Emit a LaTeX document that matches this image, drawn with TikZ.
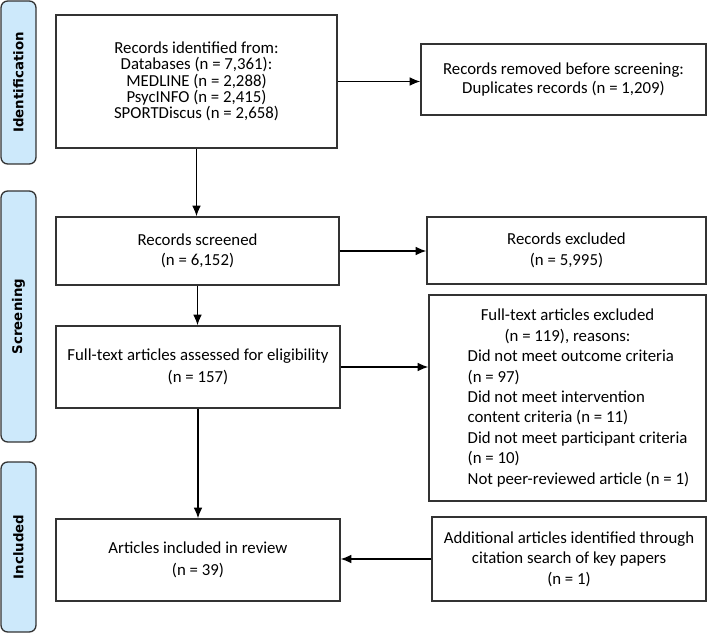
\documentclass[tikz,border=0pt]{standalone}
\usepackage{fontspec}
\setmainfont{Carlito}
\newfontfamily\stagefont{DejaVu Sans}
\usetikzlibrary{positioning}
\usetikzlibrary{calc}
\usetikzlibrary{arrows.meta}

\definecolor{stageblue}{RGB}{205,233,251}

\tikzset{
    box/.style={draw=black!80, line width=1pt, align=center,
        font=\fontsize{12.6}{15.3}\selectfont},
    listbox/.style={draw=black!80, line width=1pt, inner sep=0pt},
    stage/.style={draw=black!80, fill=stageblue, line width=1pt,
        rounded corners=5pt, rotate=90, minimum height=26.25pt,
        font=\stagefont\bfseries\fontsize{10}{12}\selectfont},
    arr/.style={-{Latex[length=8pt,width=6.5pt]}, line width=1pt}
}

\begin{document}
\begin{tikzpicture}[x=0.75pt, y=-0.75pt]
    \useasboundingbox (0,0) rectangle (708,635);

    % stage tabs
    \node[stage, minimum width=122.25pt] (tid)  at (18.5,82.5)  {Identification};
    \node[stage, minimum width=188.25pt] (tscr) at (18.5,316.5) {Screening};
    \node[stage, minimum width=127.5pt]  (tinc) at (18.5,547)   {Included};

    % identification
    \node[box, minimum width=210.75pt, minimum height=99.75pt,
        font=\fontsize{12.6}{12.2}\selectfont] (id) at (196.5,81.5)
        {Records identified from:\\ Databases (n = 7,361):\\ MEDLINE (n = 2,288)\\
         PsycINFO (n = 2,415)\\ SPORTDiscus (n = 2,658)};
    \node[box, minimum width=213.75pt, minimum height=53.25pt,
        font=\fontsize{12.6}{13.7}\selectfont] (dup) at (563.5,79.5)
        {Records removed before screening:\\ Duplicates records (n = 1,209)};

    % screening
    \node[box, minimum width=212.25pt, minimum height=51pt] (scr) at (197.5,251)
        {Records screened\\ (n = 6,152)};
    \node[box, minimum width=209.25pt, minimum height=50.25pt] (exc) at (566.5,250.5)
        {Records excluded\\ (n = 5,995)};
    \node[box, minimum width=213pt, minimum height=61.5pt,
        font=\fontsize{12.6}{16.5}\selectfont] (full) at (198,367)
        {Full-text articles assessed for eligibility\\ (n = 157)};
    \node[listbox, minimum width=207.75pt, minimum height=154.5pt] (ftex) at (567.5,398)
        {\parbox{207.75pt}{\fontsize{12.6}{15.3}\selectfont\centering
         Full-text articles excluded\\
         (n = 119), reasons:\par
         \raggedright\leftskip=29pt
         Did not meet outcome criteria\\
         (n = 97)\\
         Did not meet intervention\\
         content criteria (n = 11)\\
         Did not meet participant criteria\\
         (n = 10)\\
         Not peer-reviewed article (n = 1)\par}};

    % included
    \node[box, minimum width=213pt, minimum height=61.5pt,
        font=\fontsize{12.6}{16.5}\selectfont] (incl) at (198,560)
        {Articles included in review\\ (n = 39)};
    \node[box, minimum width=205.5pt, minimum height=63pt] (add) at (569,559)
        {Additional articles identified through\\ citation search of key papers\\ (n = 1)};

    % Lines
    \draw[arr] (id.east) -- (id.east -| dup.west);
    \draw[arr] (id.south) -- (id.south |- scr.north);
    \draw[arr] (scr.east) -- (scr.east -| exc.west);
    \draw[arr] (scr.south) -- (scr.south |- full.north);
    \draw[arr] (full.east) -- (full.east -| ftex.west);
    \draw[arr] (full.south) -- (full.south |- incl.north);
    \draw[arr] (add.west) -- (add.west -| incl.east);
\end{tikzpicture}
\end{document}
